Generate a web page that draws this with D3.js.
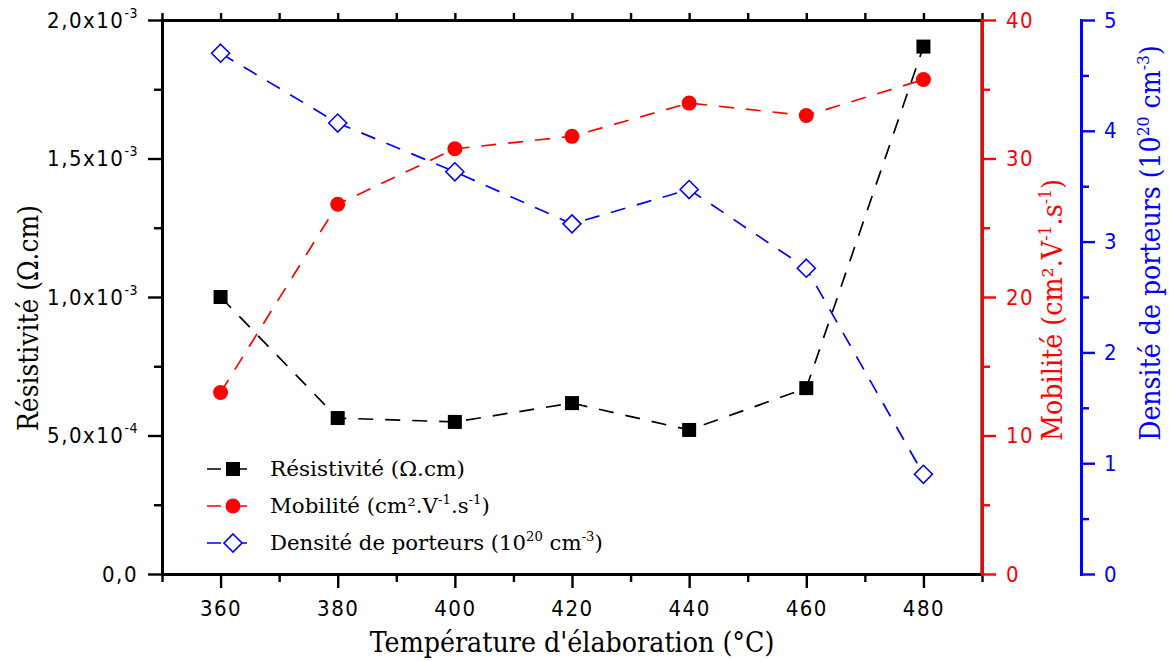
<!DOCTYPE html>
<html><head><meta charset="utf-8">
<script src="https://cdn.jsdelivr.net/npm/d3@7"></script>
<style>body{margin:0;background:#fff} svg{display:block}</style>
</head><body><svg id="c" width="1169" height="661"></svg>
<script>
// ---- data ----
const temperatures = [360, 380, 400, 420, 440, 460, 480];
const resistivity = [1.0e-3, 0.563e-3, 0.549e-3, 0.617e-3, 0.520e-3, 0.671e-3, 1.904e-3];
const mobility = [13.1, 26.7, 30.7, 31.6, 34.0, 33.1, 35.7];
const density = [4.70, 4.07, 3.63, 3.16, 3.47, 2.76, 0.90];

const xMajorTicks = [360, 380, 400, 420, 440, 460, 480];
const xMinorTicks = [350, 370, 390, 410, 430, 450, 470, 490];
const leftMajorTicks = [0, 5e-4, 1e-3, 1.5e-3, 2e-3];
const leftMinorTicks = [2.5e-4, 7.5e-4, 1.25e-3, 1.75e-3];
const leftTickMantissa = ["0,0", "5,0x10", "1,0x10", "1,5x10", "2,0x10"];
const leftTickExponent = ["", "-4", "-3", "-3", "-3"];
const mobilityMajorTicks = [0, 10, 20, 30, 40];
const mobilityMinorTicks = [5, 15, 25, 35];
const densityMajorTicks = [0, 1, 2, 3, 4, 5];
const densityMinorTicks = [0.5, 1.5, 2.5, 3.5, 4.5];

const xTitle = [["Température d'élaboration (°C)", false]];
const leftTitle = [["Résistivité (Ω.cm)", false]];
const mobilityTitle = [["Mobilité (cm².V", false], ["-1", true], [".s", false], ["-1", true], [")", false]];
const densityTitle = [["Densité de porteurs (10", false], ["20", true], [" cm", false], ["-3", true], [")", false]];

// ---- layout ----
const svg = d3.select("#c");
const L = 162, R = 982, T = 20, B = 574, BLUE_X = 1081;
const x = d3.scaleLinear().domain([350, 490]).range([L, R]);
const yR = d3.scaleLinear().domain([0, 2e-3]).range([B, T]);
const yM = d3.scaleLinear().domain([0, 40]).range([B, T]);
const yD = d3.scaleLinear().domain([0, 5]).range([B, T]);

const tickFont = "'Liberation Sans Narrow','DejaVu Sans Condensed','Arial Narrow',sans-serif";
const serif = "'DejaVu Serif',serif";
const MAJ = 14, MIN = 8;

function rich(text, parts, fs) {
  let shifted = false;
  parts.forEach(([s, sup]) => {
    const t = text.append("tspan").text(s);
    if (sup) {
      t.attr("font-size", fs * 0.62).attr("dy", -fs * 0.42);
      shifted = true;
    } else if (shifted) {
      t.attr("dy", fs * 0.42);
      shifted = false;
    }
  });
}

function styleAxis(g, color, w) {
  g.select(".domain").attr("stroke", color).attr("stroke-width", w);
  g.selectAll(".tick line").attr("stroke", color).attr("stroke-width", 2.4);
  g.selectAll("text").attr("fill", color);
}

// frame: top + right (black)
const topG = svg.append("g").attr("transform", `translate(0,${T})`)
  .call(d3.axisTop(x).tickValues(xMinorTicks.concat(xMajorTicks)).tickSize(7).tickSizeOuter(0).tickFormat(""));
styleAxis(topG, "#000", 3);
svg.append("line").attr("x1", R).attr("x2", R).attr("y1", T).attr("y2", B).attr("stroke", "#000").attr("stroke-width", 3);

// bottom axis
const botMin = svg.append("g").attr("transform", `translate(0,${B})`)
  .call(d3.axisBottom(x).tickValues(xMinorTicks).tickSize(MIN).tickSizeOuter(0).tickFormat(""));
styleAxis(botMin, "#000", 3);
const botMaj = svg.append("g").attr("transform", `translate(0,${B})`)
  .call(d3.axisBottom(x).tickValues(xMajorTicks).tickSize(MAJ).tickPadding(12).tickSizeOuter(0));
styleAxis(botMaj, "#000", 3);
botMaj.selectAll("text").attr("font-family", tickFont).attr("font-size", 22).attr("letter-spacing", 1.5);

// left axis
const leftMin = svg.append("g").attr("transform", `translate(${L},0)`)
  .call(d3.axisLeft(yR).tickValues(leftMinorTicks).tickSize(MIN).tickSizeOuter(0).tickFormat(""));
styleAxis(leftMin, "#000", 3);
const leftMaj = svg.append("g").attr("transform", `translate(${L},0)`)
  .call(d3.axisLeft(yR).tickValues(leftMajorTicks).tickSize(MAJ).tickPadding(10).tickSizeOuter(0));
styleAxis(leftMaj, "#000", 3);
leftMaj.selectAll(".tick text").each(function(d, i) {
  const t = d3.select(this).text(null).attr("font-family", tickFont).attr("font-size", 22).attr("letter-spacing", 1.5);
  t.append("tspan").text(leftTickMantissa[i]);
  if (leftTickExponent[i]) t.append("tspan").attr("font-size", 14).attr("dy", -10).attr("letter-spacing", 0.5).text(leftTickExponent[i]);
});

// mobility axis (red)
const redMin = svg.append("g").attr("transform", `translate(${R},0)`)
  .call(d3.axisRight(yM).tickValues(mobilityMinorTicks).tickSize(MIN).tickSizeOuter(0).tickFormat(""));
styleAxis(redMin, "#ff0000", 3);
const redMaj = svg.append("g").attr("transform", `translate(${R},0)`)
  .call(d3.axisRight(yM).tickValues(mobilityMajorTicks).tickSize(MAJ).tickPadding(10).tickSizeOuter(0));
styleAxis(redMaj, "#ff0000", 3);
redMaj.selectAll("text").attr("font-family", tickFont).attr("font-size", 22).attr("letter-spacing", 1.5);

// density axis (blue)
const bluMin = svg.append("g").attr("transform", `translate(${BLUE_X},0)`)
  .call(d3.axisRight(yD).tickValues(densityMinorTicks).tickSize(MIN).tickSizeOuter(0).tickFormat(""));
styleAxis(bluMin, "#0000ff", 3);
const bluMaj = svg.append("g").attr("transform", `translate(${BLUE_X},0)`)
  .call(d3.axisRight(yD).tickValues(densityMajorTicks).tickSize(MAJ).tickPadding(9).tickSizeOuter(0).tickFormat(d3.format("d")));
styleAxis(bluMaj, "#0000ff", 3);
bluMaj.selectAll("text").attr("font-family", tickFont).attr("font-size", 22);

svg.selectAll(".domain").attr("stroke-linecap", "square");

// ---- titles ----
function title(parts, cx, cy, rot, len, fs, color) {
  const g = svg.append("g").attr("transform", `translate(${cx},${cy}) rotate(${rot})`);
  const t = g.append("text").attr("text-anchor", "middle").attr("font-family", serif)
    .attr("font-size", fs).attr("fill", color);
  rich(t, parts, fs);
  const w = t.node().getBBox().width;
  t.attr("transform", `scale(${len / w},1)`);
}
title(xTitle, 572, 652, 0, 405, 28, "#000");
title(leftTitle, 38, 318, -90, 226, 27, "#000");
title(mobilityTitle, 1062, 310, -90, 262, 27, "#ff0000");
title(densityTitle, 1160, 243, -90, 396, 27, "#0000ff");

// ---- series ----
const series = [
  {vals: resistivity, y: yR, color: "#000", shape: "square", label: [["Résistivité (Ω.cm)", false]], lw: 195},
  {vals: mobility, y: yM, color: "#ff0000", shape: "circle", label: [["Mobilité (cm².V", false], ["-1", true], [".s", false], ["-1", true], [")", false]], lw: 220},
  {vals: density, y: yD, color: "#0000ff", shape: "diamond", label: [["Densité de porteurs (10", false], ["20", true], [" cm", false], ["-3", true], [")", false]], lw: 333}
];

function marker(g, shape, color, cx, cy) {
  if (shape === "square") {
    g.append("rect").attr("x", cx - 7).attr("y", cy - 7).attr("width", 14).attr("height", 14).attr("fill", color);
  } else if (shape === "circle") {
    g.append("circle").attr("cx", cx).attr("cy", cy).attr("r", 7.5).attr("fill", color);
  } else {
    const s = 9;
    g.append("path").attr("d", `M${cx},${cy - s}L${cx + s},${cy}L${cx},${cy + s}L${cx - s},${cy}Z`)
      .attr("fill", "#fff").attr("stroke", color).attr("stroke-width", 1.6);
  }
}

const line = d3.line();
series.forEach(s => {
  const pts = temperatures.map((t, i) => [x(t), s.y(s.vals[i])]);
  svg.append("path").attr("d", line(pts)).attr("fill", "none").attr("stroke", s.color)
    .attr("stroke-width", 1.7).attr("stroke-dasharray", "15,12");
});
series.forEach(s => {
  const g = svg.append("g");
  temperatures.forEach((t, i) => marker(g, s.shape, s.color, x(t), s.y(s.vals[i])));
});

// ---- legend ----
const legendY = [469, 506, 543];
series.forEach((s, i) => {
  const y = legendY[i];
  svg.append("line").attr("x1", 207).attr("x2", 248).attr("y1", y).attr("y2", y)
    .attr("stroke", s.color).attr("stroke-width", 1.7).attr("stroke-dasharray", "14,12");
  marker(svg.append("g"), s.shape, s.color, 233, y);
  const g = svg.append("g").attr("transform", `translate(270,${y + 7})`);
  const t = g.append("text").attr("font-family", serif).attr("font-size", 21).attr("fill", "#000");
  rich(t, s.label, 21);
  const w = t.node().getBBox().width;
  t.attr("transform", `scale(${s.lw / w},1)`);
});
</script></body></html>
